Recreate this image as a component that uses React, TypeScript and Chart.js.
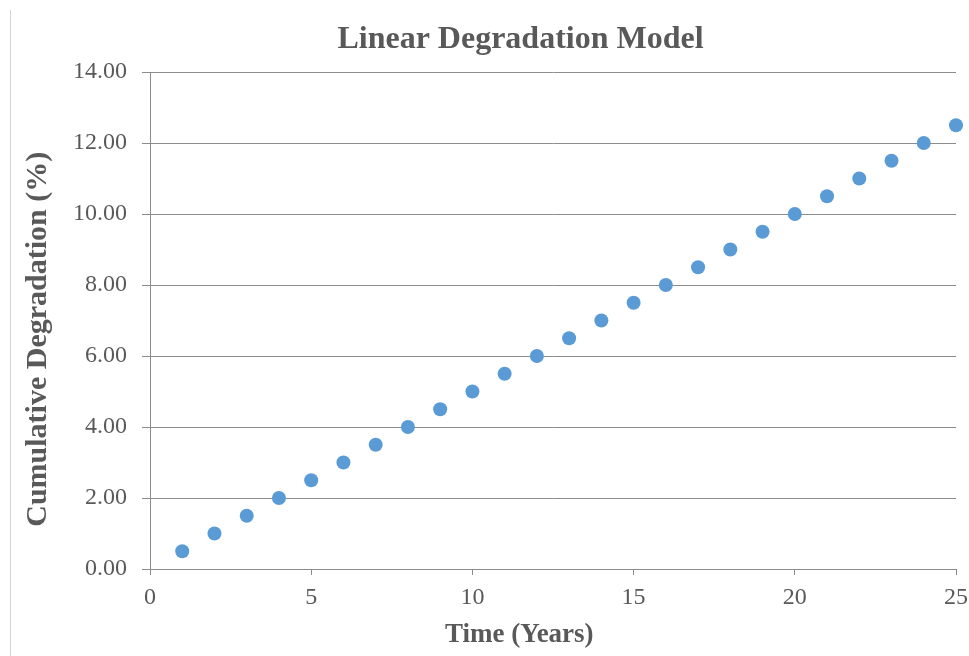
import React, { useEffect, useRef } from "react";
import { Chart, registerables } from "chart.js";

Chart.register(...registerables);

const years = [1, 2, 3, 4, 5, 6, 7, 8, 9, 10, 11, 12, 13, 14, 15, 16, 17, 18, 19, 20, 21, 22, 23, 24, 25];
const degradation = [0.5, 1.0, 1.5, 2.0, 2.5, 3.0, 3.5, 4.0, 4.5, 5.0, 5.5, 6.0, 6.5, 7.0, 7.5, 8.0, 8.5, 9.0, 9.5, 10.0, 10.5, 11.0, 11.5, 12.0, 12.5];

const titleText = "Linear Degradation Model";
const xTitle = "Time (Years)";
const yTitle = "Cumulative Degradation (%)";

const TEXT = "#595959";
const GRID = "#8c8c8c";
const FONT = "'Liberation Serif', 'Times New Roman', serif";

export default function App() {
  const ref = useRef<HTMLCanvasElement | null>(null);

  useEffect(() => {
    if (!ref.current) return;
    const chart = new Chart(ref.current, {
      type: "scatter",
      data: {
        datasets: [
          {
            data: years.map((x, i) => ({ x, y: degradation[i] })),
            backgroundColor: "#5b9bd5",
            borderColor: "#5b9bd5",
            borderWidth: 0,
            pointRadius: 7,
            pointHoverRadius: 7,
            showLine: false,
            clip: false as any,
          },
        ],
      },
      options: {
        animation: false,
        responsive: false,
        maintainAspectRatio: false,
        layout: { padding: { left: 0, right: 0, top: 0, bottom: 0 } },
        plugins: {
          legend: { display: false },
          tooltip: { enabled: false },
          title: {
            display: true,
            text: "         " + titleText,
            color: TEXT,
            font: { family: FONT, size: 32, weight: "bold", lineHeight: 1.2 },
            padding: { top: 21, bottom: 12.6 },
          },
        },
        scales: {
          x: {
            type: "linear",
            min: 0,
            max: 25,
            ticks: {
              stepSize: 5,
              color: TEXT,
              font: { family: FONT, size: 24 },
              padding: 8,
              maxRotation: 0,
            },
            grid: {
              display: true,
              drawOnChartArea: false,
              drawTicks: true,
              tickLength: 6,
              color: GRID,
            },
            border: { display: true, color: GRID, width: 1 },
            title: {
              display: true,
              text: xTitle + "          ",
              color: TEXT,
              font: { family: FONT, size: 27, weight: "bold", lineHeight: 1.2 },
              padding: { top: 0, bottom: 5 },
            },
            afterFit: (scale: any) => {
              scale.height = 87;
              scale.paddingRight = 13;
              scale.paddingLeft = 0;
            },
          },
          y: {
            type: "linear",
            min: 0,
            max: 14,
            ticks: {
              stepSize: 2,
              color: TEXT,
              font: { family: FONT, size: 24 },
              padding: 15,
              callback: (v: any) => Number(v).toFixed(2),
            },
            grid: {
              display: true,
              drawTicks: true,
              tickLength: 8,
              color: GRID,
            },
            border: { display: true, color: GRID, width: 1 },
            title: {
              display: true,
              text: yTitle + "     ",
              color: TEXT,
              font: { family: FONT, size: 30, weight: "bold", lineHeight: 1.2 },
              padding: { top: 20, bottom: 0 },
            },
            afterFit: (scale: any) => {
              scale.width = 150;
            },
          },
        },
      },
    });
    return () => chart.destroy();
  }, []);

  return (
    <div style={{ position: "fixed", left: 0, top: 0, width: 969, height: 656, background: "#fff" }}>
      <div style={{ position: "absolute", left: 10, top: 10, width: 1, height: 646, background: "#d4d4d4" }} />
      <canvas ref={ref} width={969} height={656} style={{ position: "absolute", left: 0, top: 0 }} />
    </div>
  );
}
